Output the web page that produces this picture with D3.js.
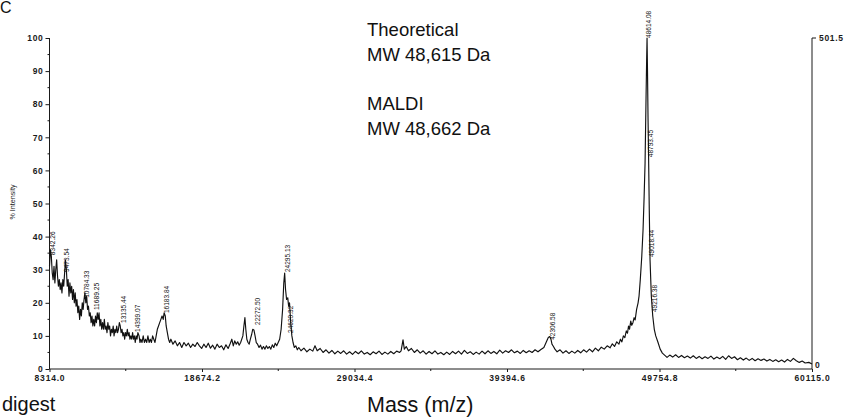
<!DOCTYPE html>
<html><head><meta charset="utf-8">
<script src="https://cdn.jsdelivr.net/npm/d3@7"></script>
<style>body{margin:0;background:#fff} svg{display:block}</style>
</head><body><svg id="c" width="851" height="417"></svg>
<script>
// ---- data ----
const xTickValues = [8314.0, 18674.2, 29034.4, 39394.6, 49754.8, 60115.0];
const yTickValues = [0, 10, 20, 30, 40, 50, 60, 70, 80, 90, 100];
const rightAxisLabels = ["0", "501.5"];
const annotationLines = ["Theoretical", "MW 48,615 Da", "", "MALDI", "MW 48,662 Da"];
const xTitle = "Mass (m/z)";
const yTitle = "% Intensity";

// [mass, % intensity]
const spectrum = [
[8314,31],[8380,36],[8440,34],[8500,29],[8560,27],[8620,31],[8680,26],[8740,30],[8800,33],[8860,28],
[8920,25],[8980,27],[9040,24],[9100,26],[9160,23],[9220,27],[9280,25],[9340,29],[9400,33],[9460,30],
[9520,25],[9580,27],[9640,22],[9700,26],[9760,23],[9820,25],[9880,21],[9940,24],[10000,20],[10060,23],
[10120,19],[10180,21],[10240,17],[10300,19],[10360,15],[10420,18],[10480,16],[10540,20],[10600,18],[10660,21],
[10720,23],[10780,20],[10840,22],[10900,18],[10960,19],[11020,16],[11080,17],[11140,14],[11200,16],[11260,13],
[11320,15],[11380,13],[11440,16],[11500,14],[11560,17],[11620,15],[11680,17],[11740,13],[11800,15],[11860,12],
[11920,14],[11980,12],[12040,15],[12100,12],[12160,13],[12220,11],[12280,14],[12340,12],[12400,13],[12460,10],
[12520,12],[12580,11],[12640,13],[12700,10],[12760,12],[12820,11],[12880,13],[12940,11],[13000,12],[13060,14],
[13120,13],[13180,11],[13240,12],[13300,10],[13360,11],[13420,9],[13480,11],[13540,10],[13600,12],[13660,10],
[13720,11],[13780,9],[13840,10],[13900,9],[13960,11],[14020,9],[14080,10],[14140,8],[14200,10],[14260,9],
[14320,11],[14400,10],[14460,8],[14520,9],[14600,8],[14680,10],[14760,8],[14840,9],[14920,8],[15000,10],
[15080,8],[15160,9],[15240,8],[15320,10],[15400,9],[15480,8],[15560,10],[15640,12],[15720,13],[15800,14],
[15880,15],[15960,16],[16040,15],[16100,17],[16180,16],[16240,13],[16320,11],[16400,9],[16480,8],[16560,9],
[16700,7.5],[16850,8.5],[17000,7],[17150,8],[17300,6.5],[17450,8],[17600,7],[17750,7.8],[17900,6.5],[18050,7.5],
[18200,6.8],[18350,8],[18500,7],[18650,6.2],[18800,7.5],[18950,6.5],[19100,7.8],[19250,6.3],[19400,7.2],[19550,6],
[19700,7.5],[19850,6.5],[20000,7],[20150,5.8],[20300,7.3],[20450,6.2],[20600,7.8],[20700,9],[20800,7],[20900,8.5],
[21000,7.5],[21100,8.2],[21200,7.2],[21300,8],[21450,10],[21520,13],[21590,15.5],[21650,12],[21720,9],[21800,8],
[21880,7.5],[21960,9],[22050,10.5],[22120,12],[22200,11.8],[22280,10],[22360,8],[22450,7.5],[22550,6.5],[22650,7.2],
[22750,6],[22850,6.8],[22950,6],[23050,7],[23150,6.2],[23250,6.8],[23350,6],[23450,7.3],[23550,6.5],[23650,7.8],
[23750,7],[23850,8],[23950,9],[24050,12],[24150,18],[24230,26],[24290,29],[24350,24],[24420,21],[24500,21.5],
[24560,19],[24620,20],[24700,14],[24780,10],[24860,8],[24950,6.5],[25050,7],[25150,5.8],[25250,6.5],[25400,5.5],
[25600,6.3],[25800,5.2],[26000,6],[26200,5.4],[26350,7],[26500,5.5],[26700,6.2],[26900,5],[27100,5.8],[27300,4.8],
[27500,5.6],[27700,4.6],[27900,5.4],[28100,4.7],[28300,5.5],[28500,4.5],[28700,5.2],[28900,4.4],[29100,5.3],[29300,4.6],
[29500,5.5],[29700,4.5],[29900,5],[30100,4.3],[30300,5.2],[30500,4.6],[30700,5.4],[30900,4.4],[31100,5.1],[31300,4.5],
[31500,5.3],[31700,4.6],[31900,5.4],[32100,5],[32200,5.5],[32330,8.8],[32420,6],[32550,6.8],[32700,5.5],[32900,6.2],
[33100,5],[33300,5.8],[33500,4.8],[33700,5.5],[33900,4.5],[34100,5.3],[34300,4.6],[34500,5.5],[34700,4.5],[34900,5],
[35100,4.3],[35300,5.1],[35500,4.4],[35700,5.3],[35900,4.6],[36100,5.4],[36300,4.5],[36500,5.6],[36700,4.7],[36900,5.2],
[37100,4.4],[37300,5.1],[37500,4.5],[37700,5.4],[37900,4.6],[38100,5.5],[38300,4.7],[38500,5.3],[38700,4.6],[38900,5.7],
[39100,4.8],[39300,5.5],[39500,5],[39700,5.8],[39900,4.9],[40100,5.4],[40300,4.7],[40500,5.6],[40700,4.9],[40900,5.5],
[41100,5],[41300,5.8],[41500,5.2],[41700,5.9],[41900,6.5],[42050,8],[42200,9.5],[42300,9.8],[42380,9],[42450,7.5],
[42550,6.8],[42650,6],[42800,5.2],[43000,5.8],[43200,4.8],[43400,5.5],[43600,4.7],[43800,5.4],[44000,4.8],[44200,5.6],
[44400,4.9],[44600,5.8],[44800,5.1],[45000,6],[45200,5.2],[45400,6.3],[45600,5.5],[45800,6.6],[46000,6],[46200,7],
[46400,6.4],[46550,7.6],[46700,6.8],[46850,8.2],[47000,7.5],[47100,9],[47200,8.2],[47300,10],[47400,9.5],[47500,11.5],
[47580,10.8],[47650,13],[47720,12],[47800,14.5],[47870,13.2],[47950,14],[48030,15.5],[48100,14.8],[48200,18],[48300,20],
[48365,22],[48450,27],[48550,34],[48637,42],[48710,52],[48773,62],[48841,82],[48880,93],[48909,100],[48940,90],
[48975,76],[49011,65],[49060,48],[49112,33],[49200,22],[49296,16],[49400,12],[49500,10],[49656,8],[49800,6],
[49950,4.8],[50100,4.2],[50267,3.5],[50450,4.2],[50650,3.6],[50850,4.3],[51050,3.5],[51250,4.1],[51450,3.4],[51650,3.9],
[51850,3.3],[52050,4],[52250,3.2],[52450,3.8],[52650,3.1],[52850,3.7],[53050,3.2],[53250,3.9],[53450,3],[53650,3.6],
[53850,3.1],[54050,3.8],[54250,2.9],[54450,4],[54650,3.2],[54850,3.7],[55050,2.8],[55250,3.4],[55450,2.7],[55650,3.3],
[55850,2.6],[56050,3.2],[56250,2.5],[56450,3.1],[56650,2.6],[56850,3],[57050,2.4],[57250,2.9],[57450,2.3],[57650,2.8],
[57850,2.2],[58050,2.7],[58250,2.1],[58450,2.9],[58650,2.3],[58850,3.2],[59050,2.5],[59250,2],[59450,2.4],[59650,1.8],
[59900,2],[60115,1.5]
];

// peak labels: text, mass where it sits, intensity at its base
const peakLabels = [
["8342.26", 8484, 34.4], ["9473.54", 9435, 29.3], ["10784.33", 10794, 21.5], ["11689.25", 11473, 17.8],
["13135.44", 13308, 13.9], ["14399.07", 14259, 11.2], ["16183.84", 16229, 16.9], ["22272.50", 22412, 13.3],
["24295.13", 24450, 29.3], ["24620.32", 24654, 10.9], ["42306.58", 42454, 8.8], ["48614.08", 48976, 100],
["48793.45", 49112, 64], ["49018.44", 49180, 33.8], ["49216.38", 49384, 17.2]
];

// ---- drawing ----
const svg = d3.select("#c");
const mLeft = 49.5, mRight = 812, mTop = 38, mBottom = 369;
const x = d3.scaleLinear().domain([8314.0, 60115.0]).range([mLeft, mRight]);
const y = d3.scaleLinear().domain([0, 100]).range([mBottom, mTop]);
const y2 = d3.scaleLinear().domain([0, 501.5]).range([mBottom, mTop]);
const ink = "#1a1a1a";
const tickFont = "Liberation Sans, Arial, sans-serif";

// left axis
const yAxis = d3.axisLeft(y).tickValues(yTickValues).tickSize(4).tickPadding(2).tickFormat(d3.format("d"));
const gy = svg.append("g").attr("transform", `translate(${mLeft},0)`).call(yAxis);
gy.select(".domain").attr("stroke", ink).attr("stroke-width", 1).attr("d", `M0,${mBottom}V${mTop}`);
gy.selectAll(".tick line").attr("stroke", ink);
gy.selectAll(".tick text").attr("fill", ink).style("font", `bold 8.5px ${tickFont}`).style("letter-spacing", "0.7px");
svg.append("g").selectAll("line").data(d3.range(5, 100, 10)).join("line")
  .attr("x1", mLeft - 2).attr("x2", mLeft).attr("y1", d => y(d)).attr("y2", d => y(d)).attr("stroke", ink);

// right axis
svg.append("line").attr("x1", mRight).attr("x2", mRight).attr("y1", y2(0)).attr("y2", y2(501.5)).attr("stroke", ink);
svg.append("line").attr("x1", mRight).attr("x2", mRight + 4).attr("y1", y2(501.5)).attr("y2", y2(501.5)).attr("stroke", ink);
svg.append("text").attr("x", mRight + 7).attr("y", y2(501.5) + 3).text(rightAxisLabels[1])
  .attr("fill", ink).style("font", `bold 8.5px ${tickFont}`).style("letter-spacing", "0.7px");
svg.append("text").attr("x", mRight + 3).attr("y", y2(0) - 1).text(rightAxisLabels[0])
  .attr("fill", ink).style("font", `bold 8.5px ${tickFont}`).style("letter-spacing", "0.7px");

// bottom axis
const xAxis = d3.axisBottom(x).tickValues(xTickValues).tickSize(3).tickPadding(3).tickFormat(d3.format(".1f"));
const gx = svg.append("g").attr("transform", `translate(0,${mBottom})`).call(xAxis);
gx.select(".domain").attr("stroke", ink).attr("d", `M${mLeft},0H${mRight}`);
gx.selectAll(".tick line").attr("stroke", ink);
gx.selectAll(".tick text").attr("fill", ink).style("font", `bold 8.5px ${tickFont}`).style("letter-spacing", "0.8px");
const mids = d3.pairs(xTickValues).map(([a, b]) => (a + b) / 2);
svg.append("g").selectAll("line").data(mids).join("line")
  .attr("x1", d => x(d)).attr("x2", d => x(d)).attr("y1", mBottom).attr("y2", mBottom + 2).attr("stroke", ink);

// trace
const line = d3.line().x(d => x(d[0])).y(d => y(d[1]));
svg.append("path").datum(spectrum).attr("d", line).attr("fill", "none")
  .attr("stroke", "#111").attr("stroke-width", 1.15).attr("stroke-linejoin", "round");

// peak labels
svg.append("g").selectAll("text").data(peakLabels).join("text")
  .attr("transform", d => `translate(${x(d[1])},${y(d[2])}) rotate(-90)`)
  .attr("dy", "0.35em").attr("text-anchor", "start")
  .attr("textLength", d => d[0].length * 3.4).attr("lengthAdjust", "spacingAndGlyphs")
  .attr("fill", "#111").style("font", `8px 'Liberation Sans Narrow', ${tickFont}`)
  .text(d => d[0]);

// y title
svg.append("text").attr("transform", "translate(12,202) rotate(-90)").attr("text-anchor", "middle")
  .attr("dy", "0.35em").attr("textLength", 35).attr("lengthAdjust", "spacingAndGlyphs")
  .attr("fill", ink).style("font", `7.5px 'Liberation Sans Narrow', ${tickFont}`).text(yTitle);

// annotation
const ann = svg.append("text").attr("fill", "#111").style("font", "18.5px 'Liberation Sans', Arial, sans-serif");
annotationLines.forEach((t, i) => {
  if (t) ann.append("tspan").attr("x", 367).attr("y", 36 + i * 24.75).text(t);
});

// x title
svg.append("text").attr("x", 367).attr("y", 412).attr("fill", "#111")
  .style("font", "21.5px 'Liberation Sans', Arial, sans-serif").text(xTitle);

// fragments of the surrounding figure (kept inside the frame)
svg.append("text").attr("x", 0).attr("y", 13).attr("fill", "#111")
  .style("font", "16px 'Liberation Sans', Arial, sans-serif").text("C");
svg.append("text").attr("x", 2).attr("y", 411).attr("fill", "#111")
  .style("font", "20px 'Liberation Sans', Arial, sans-serif").text("digest");
</script></body></html>
